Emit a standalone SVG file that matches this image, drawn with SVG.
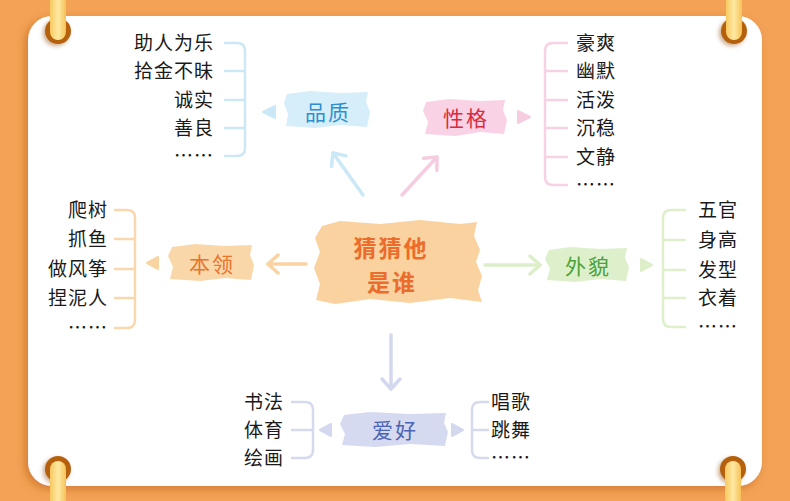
<svg xmlns="http://www.w3.org/2000/svg" width="790" height="501" viewBox="0 0 790 501">
<defs>
<style>
.item{font-family:"Noto Sans CJK SC","Noto Sans",sans-serif;font-size:19px;fill:#1a1a1a;letter-spacing:1px}
.lbl{font-family:"Noto Sans CJK SC","Noto Sans",sans-serif;font-size:21px;letter-spacing:2px;text-anchor:middle}
.ctr{font-family:"Noto Sans CJK SC","Noto Sans",sans-serif;font-size:23px;font-weight:bold;fill:#EC6C2C;text-anchor:middle;letter-spacing:2px}
.br{fill:none;stroke-width:2.5;stroke-linecap:round}
.ar{fill:none;stroke-width:3.5;stroke-linecap:round}
</style>
<filter id="sh" x="-10%" y="-10%" width="120%" height="120%">
<feDropShadow dx="-3" dy="3" stdDeviation="4" flood-color="#B85A16" flood-opacity="0.55"/>
</filter>
<filter id="rs" x="-50%" y="-50%" width="200%" height="200%">
<feDropShadow dx="-2" dy="2" stdDeviation="2" flood-color="#8A4510" flood-opacity="0.45"/>
</filter>
<linearGradient id="tab" x1="0" y1="0" x2="1" y2="0">
<stop offset="0" stop-color="#F8C860"/>
<stop offset="0.5" stop-color="#FDE9A2"/>
<stop offset="1" stop-color="#F6C257"/>
</linearGradient>
<marker id="mB" markerUnits="userSpaceOnUse" markerWidth="24" markerHeight="24" refX="13" refY="12" orient="auto"><path d="M3,3 L13,12 L3,21" fill="none" stroke="#CBE8F7" stroke-width="3.5" stroke-linecap="round" stroke-linejoin="round"/></marker>
<marker id="mP" markerUnits="userSpaceOnUse" markerWidth="24" markerHeight="24" refX="13" refY="12" orient="auto"><path d="M3,3 L13,12 L3,21" fill="none" stroke="#F6CDE0" stroke-width="3.5" stroke-linecap="round" stroke-linejoin="round"/></marker>
<marker id="mO" markerUnits="userSpaceOnUse" markerWidth="24" markerHeight="24" refX="13" refY="12" orient="auto"><path d="M3,3 L13,12 L3,21" fill="none" stroke="#F9D3A2" stroke-width="3.5" stroke-linecap="round" stroke-linejoin="round"/></marker>
<marker id="mG" markerUnits="userSpaceOnUse" markerWidth="24" markerHeight="24" refX="13" refY="12" orient="auto"><path d="M3,3 L13,12 L3,21" fill="none" stroke="#DCEFC9" stroke-width="3.5" stroke-linecap="round" stroke-linejoin="round"/></marker>
<marker id="mL" markerUnits="userSpaceOnUse" markerWidth="24" markerHeight="24" refX="13" refY="12" orient="auto"><path d="M3,3 L13,12 L3,21" fill="none" stroke="#D3D8EE" stroke-width="3.5" stroke-linecap="round" stroke-linejoin="round"/></marker>
</defs>

<rect width="790" height="501" fill="#F3A256"/>
<rect x="28" y="16" width="734" height="470" rx="24" fill="#FFFFFF" filter="url(#sh)"/>

<g id="rings">
<g filter="url(#rs)">
<circle cx="58" cy="31" r="13" fill="#B5600F"/>
<circle cx="734" cy="31" r="13" fill="#B5600F"/>
<circle cx="58" cy="469" r="13" fill="#B5600F"/>
<circle cx="733" cy="469" r="13" fill="#B5600F"/>
</g>
<rect x="50" y="-10" width="16" height="50" rx="8" fill="url(#tab)"/>
<rect x="726" y="-10" width="16" height="50" rx="8" fill="url(#tab)"/>
<rect x="50" y="461" width="16" height="50" rx="8" fill="url(#tab)"/>
<rect x="725" y="461" width="16" height="50" rx="8" fill="url(#tab)"/>
</g>

<g id="connectors">
<line class="ar" x1="363" y1="195" x2="333" y2="153" stroke="#CBE8F7" marker-end="url(#mB)"/>
<line class="ar" x1="402" y1="195" x2="437" y2="157" stroke="#F6CDE0" marker-end="url(#mP)"/>
<line class="ar" x1="306" y1="264" x2="268" y2="264" stroke="#F9D3A2" marker-end="url(#mO)"/>
<line class="ar" x1="485" y1="265" x2="540" y2="265" stroke="#DCEFC9" marker-end="url(#mG)"/>
<line class="ar" x1="391" y1="335" x2="391" y2="389" stroke="#D3D8EE" marker-end="url(#mL)"/>
<path d="M263,112 L275,106 L275,118 Z" fill="#CBE8F7" stroke="#CBE8F7" stroke-width="2" stroke-linejoin="round"/>
<path d="M530,117 L518,111 L518,123 Z" fill="#F6CDE0" stroke="#F6CDE0" stroke-width="2" stroke-linejoin="round"/>
<path d="M147,263 L158,257 L158,269 Z" fill="#F9D3A2" stroke="#F9D3A2" stroke-width="2" stroke-linejoin="round"/>
<path d="M652,265 L641,259 L641,271 Z" fill="#DCEFC9" stroke="#DCEFC9" stroke-width="2" stroke-linejoin="round"/>
<path d="M320,430 L331,424 L331,436 Z" fill="#D3D8EE" stroke="#D3D8EE" stroke-width="2" stroke-linejoin="round"/>
<path d="M463,430 L452,424 L452,436 Z" fill="#D3D8EE" stroke="#D3D8EE" stroke-width="2" stroke-linejoin="round"/>
<path class="br" stroke="#CDE8F5" d="M225,43 H237 Q245,43 245,51 V148 Q245,156 237,156 H225 M225,71 H245 M225,100 H245 M225,128 H245"/>
<path class="br" stroke="#F7D2E4" d="M567,43 H553 Q545,43 545,51 V177 Q545,185 553,185 H567 M545,71 H567 M545,100 H567 M545,128 H567 M545,157 H567"/>
<path class="br" stroke="#F9D8AE" d="M115,210 H127 Q135,210 135,218 V320 Q135,328 127,328 H115 M115,239 H135 M115,269 H135 M115,298 H135"/>
<path class="br" stroke="#DDEFCB" d="M685,210 H671 Q663,210 663,218 V319 Q663,327 671,327 H685 M663,240 H685 M663,270 H685 M663,298 H685"/>
<path class="br" stroke="#D5DAEE" d="M292,402 H305 Q313,402 313,410 V450 Q313,458 305,458 H292 M292,430 H313"/>
<path class="br" stroke="#D5DAEE" d="M488,402 H480 Q472,402 472,410 V450 Q472,458 480,458 H488 M472,430 H488"/>
</g>

<g id="center">
<path d="M322,226 L340,221 L380,224 L420,220 L460,224 L477,222 L474,236 L480,250 L476,262 L482,276 L478,290 L482,302 L450,298 L410,303 L370,299 L335,304 L316,300 L320,284 L314,268 L320,252 L315,238 Z" fill="#FAD29F"/>
<text class="ctr" x="391" y="257">猜猜他</text>
<text class="ctr" x="392" y="291">是谁</text>
</g>

<g id="pinzhi">
<path d="M287,94 L310,91 L340,93 L368,92 L366,102 L370,112 L367,127 L340,125 L315,128 L286,126 L288,114 L284,103 Z" fill="#D6EEFA"/>
<text class="lbl" x="328" y="120" fill="#2E8ED0">品质</text>
</g>
<g id="xingge">
<path d="M426,102 L450,99 L480,101 L505,100 L503,110 L507,120 L504,134 L480,132 L455,136 L425,134 L428,122 L423,111 Z" fill="#FAD2E6"/>
<text class="lbl" x="466" y="126" fill="#D92B3F">性格</text>
</g>
<g id="benling">
<path d="M172,247 L195,244 L225,246 L252,245 L250,255 L254,265 L251,280 L225,278 L200,281 L170,279 L173,267 L168,256 Z" fill="#FAD7A8"/>
<text class="lbl" x="212" y="272" fill="#E8742E">本领</text>
</g>
<g id="waimao">
<path d="M549,250 L570,247 L600,249 L627,248 L625,258 L629,267 L626,281 L600,279 L575,282 L547,280 L550,269 L545,259 Z" fill="#DDF0CB"/>
<text class="lbl" x="588" y="274" fill="#4AA23A">外貌</text>
</g>
<g id="aihao">
<path d="M344,415 L370,412 L410,414 L446,413 L444,423 L448,432 L445,446 L410,444 L375,447 L342,445 L345,434 L340,424 Z" fill="#D5DAF0"/>
<text class="lbl" x="395" y="438" fill="#4B63B5">爱好</text>
</g>

<g id="list-pinzhi">
<text class="item" x="214" y="50" text-anchor="end">助人为乐</text>
<text class="item" x="214" y="78" text-anchor="end">拾金不昧</text>
<text class="item" x="214" y="107" text-anchor="end">诚实</text>
<text class="item" x="214" y="135" text-anchor="end">善良</text>
<text class="item" x="214" y="163" text-anchor="end">……</text>
</g>
<g id="list-xingge">
<text class="item" x="576" y="50">豪爽</text>
<text class="item" x="576" y="78">幽默</text>
<text class="item" x="576" y="107">活泼</text>
<text class="item" x="576" y="135">沉稳</text>
<text class="item" x="576" y="164">文静</text>
<text class="item" x="576" y="192">……</text>
</g>
<g id="list-benling">
<text class="item" x="108" y="217" text-anchor="end">爬树</text>
<text class="item" x="108" y="246" text-anchor="end">抓鱼</text>
<text class="item" x="108" y="276" text-anchor="end">做风筝</text>
<text class="item" x="108" y="305" text-anchor="end">捏泥人</text>
<text class="item" x="108" y="335" text-anchor="end">……</text>
</g>
<g id="list-waimao">
<text class="item" x="698" y="217">五官</text>
<text class="item" x="698" y="247">身高</text>
<text class="item" x="698" y="277">发型</text>
<text class="item" x="698" y="305">衣着</text>
<text class="item" x="698" y="334">……</text>
</g>
<g id="list-aihao-left">
<text class="item" x="284" y="409" text-anchor="end">书法</text>
<text class="item" x="284" y="437" text-anchor="end">体育</text>
<text class="item" x="284" y="465" text-anchor="end">绘画</text>
</g>
<g id="list-aihao-right">
<text class="item" x="491" y="409">唱歌</text>
<text class="item" x="491" y="437">跳舞</text>
<text class="item" x="491" y="465">……</text>
</g>
</svg>
